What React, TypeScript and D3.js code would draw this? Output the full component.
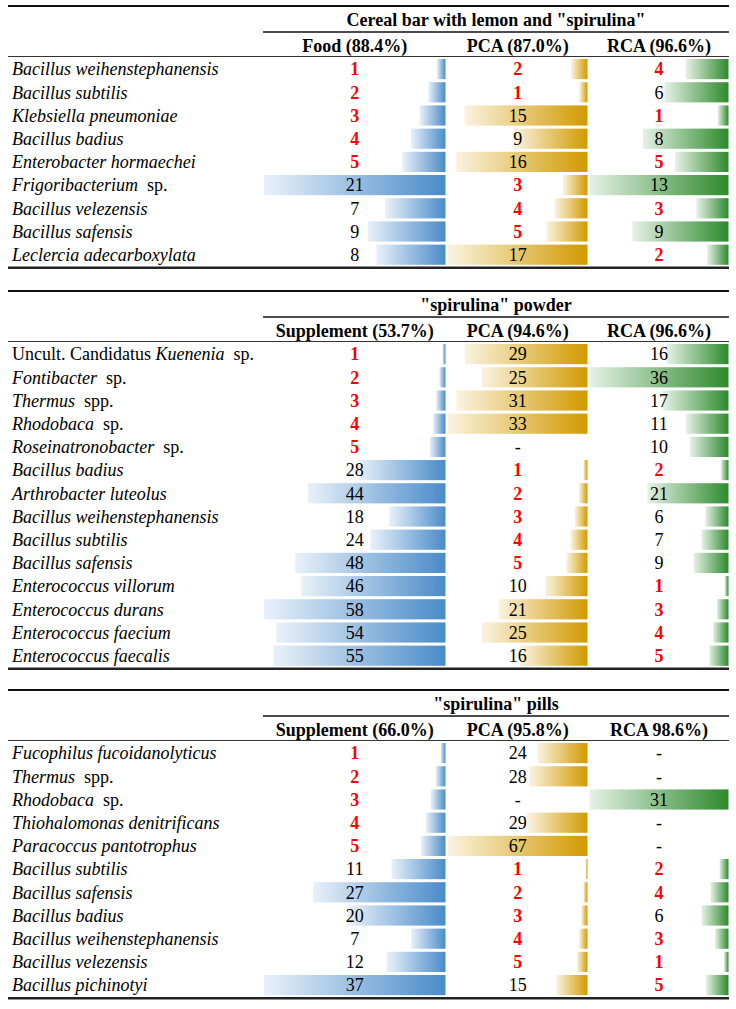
import React from "react";
import * as d3 from "d3";

// ---------- DATA ----------
const t1Title = 'Cereal bar with lemon and "spirulina"';
const t1Headers = ["Food (88.4%)", "PCA (87.0%)", "RCA (96.6%)"];
const t1Species = [
  "*Bacillus weihenstephanensis*",
  "*Bacillus subtilis*",
  "*Klebsiella pneumoniae*",
  "*Bacillus badius*",
  "*Enterobacter hormaechei*",
  "*Frigoribacterium* sp.",
  "*Bacillus velezensis*",
  "*Bacillus safensis*",
  "*Leclercia adecarboxylata*",
];
const t1Food = [1, 2, 3, 4, 5, 21, 7, 9, 8];
const t1PCA = [2, 1, 15, 9, 16, 3, 4, 5, 17];
const t1RCA = [4, 6, 1, 8, 5, 13, 3, 9, 2];

const t2Title = '"spirulina" powder';
const t2Headers = ["Supplement (53.7%)", "PCA (94.6%)", "RCA (96.6%)"];
const t2Species = [
  "Uncult. Candidatus *Kuenenia* sp.",
  "*Fontibacter* sp.",
  "*Thermus* spp.",
  "*Rhodobaca* sp.",
  "*Roseinatronobacter* sp.",
  "*Bacillus badius*",
  "*Arthrobacter luteolus*",
  "*Bacillus weihenstephanensis*",
  "*Bacillus subtilis*",
  "*Bacillus safensis*",
  "*Enterococcus villorum*",
  "*Enterococcus durans*",
  "*Enterococcus faecium*",
  "*Enterococcus faecalis*",
];
const t2Supp = [1, 2, 3, 4, 5, 28, 44, 18, 24, 48, 46, 58, 54, 55];
const t2PCA = [29, 25, 31, 33, null, 1, 2, 3, 4, 5, 10, 21, 25, 16];
const t2RCA = [16, 36, 17, 11, 10, 2, 21, 6, 7, 9, 1, 3, 4, 5];

const t3Title = '"spirulina" pills';
const t3Headers = ["Supplement (66.0%)", "PCA (95.8%)", "RCA 98.6%)"];
const t3Species = [
  "*Fucophilus fucoidanolyticus*",
  "*Thermus* spp.",
  "*Rhodobaca* sp.",
  "*Thiohalomonas denitrificans*",
  "*Paracoccus pantotrophus*",
  "*Bacillus subtilis*",
  "*Bacillus safensis*",
  "*Bacillus badius*",
  "*Bacillus weihenstephanensis*",
  "*Bacillus velezensis*",
  "*Bacillus pichinotyi*",
];
const t3Supp = [1, 2, 3, 4, 5, 11, 27, 20, 7, 12, 37];
const t3PCA = [24, 28, null, 29, 67, 1, 2, 3, 4, 5, 15];
const t3RCA = [null, null, 31, null, null, 2, 4, 6, 3, 1, 5];

// ---------- LAYOUT ----------
const W = 736;
const H = 1009;
const FONT = "'Liberation Serif', 'Times New Roman', serif";
const FS = 18;
const ROW_H = 23.2;
const RULE_X0 = 8;
const RULE_X1 = 729;
const GROUP_X0 = 263;
const LABEL_X = 12;
const COLS = [
  { x0: 264, x1: 445.5, grad: "gBlue" },
  { x0: 448, x1: 587.5, grad: "gGold" },
  { x0: 589.5, x1: 728.5, grad: "gGreen" },
];
const GRADS = [
  { id: "gBlue", c: "#4a8bc9" },
  { id: "gGold", c: "#d29a00" },
  { id: "gGreen", c: "#2d8a2d" },
];

const tables = [
  { top: 6, title: t1Title, headers: t1Headers, species: t1Species, cols: [t1Food, t1PCA, t1RCA] },
  { top: 291, title: t2Title, headers: t2Headers, species: t2Species, cols: [t2Supp, t2PCA, t2RCA] },
  { top: 690, title: t3Title, headers: t3Headers, species: t3Species, cols: [t3Supp, t3PCA, t3RCA] },
];

function Label({ s, x, y }: { s: string; x: number; y: number }) {
  const parts = s.split("*");
  return (
    <text x={x} y={y} dy="0.35em" fontFamily={FONT} fontSize={FS} fill="#000" style={{ whiteSpace: "pre" }}>
      {parts.map((p, i) =>
        p === "" ? null : (
          <tspan key={i} fontStyle={i % 2 === 1 ? "italic" : "normal"}>
            {i % 2 === 0 && i > 0 ? " " + p : p}
          </tspan>
        )
      )}
    </text>
  );
}

function Table({ t }: { t: (typeof tables)[number] }) {
  const top = t.top;
  const rowsTop = top + 51.5;
  const n = t.species.length;
  const rowsBottom = rowsTop + n * ROW_H;
  const y = d3.scaleBand<number>().domain(d3.range(n)).range([rowsTop, rowsBottom]).paddingInner(0.13).paddingOuter(0.065);
  const groupCenter = (GROUP_X0 + RULE_X1) / 2;
  return (
    <g>
      <line x1={RULE_X0} x2={RULE_X1} y1={top} y2={top} stroke="#111" strokeWidth={2.2} />
      <text x={groupCenter} y={top + 14} dy="0.35em" textAnchor="middle" fontFamily={FONT} fontSize={FS} fontWeight="bold">
        {t.title}
      </text>
      <line x1={GROUP_X0} x2={RULE_X1} y1={top + 26} y2={top + 26} stroke="#111" strokeWidth={1.5} />
      {t.headers.map((h, i) => (
        <text
          key={h}
          x={(COLS[i].x0 + COLS[i].x1) / 2}
          y={top + 39.5}
          dy="0.35em"
          textAnchor="middle"
          fontFamily={FONT}
          fontSize={FS}
          fontWeight="bold"
        >
          {h}
        </text>
      ))}
      <line x1={RULE_X0} x2={RULE_X1} y1={top + 50.5} y2={top + 50.5} stroke="#333" strokeWidth={1.2} />
      {t.cols.map((vals, ci) => {
        const col = COLS[ci];
        const max = d3.max(vals.filter((v) => v != null) as number[]) as number;
        const xw = d3.scaleLinear().domain([0, max]).range([0, col.x1 - col.x0]);
        return (
          <g key={ci}>
            {vals.map((v, ri) =>
              v == null ? null : (
                <rect
                  key={ri}
                  x={col.x1 - xw(v)}
                  y={y(ri)}
                  width={xw(v)}
                  height={y.bandwidth()}
                  fill={`url(#${col.grad})`}
                />
              )
            )}
            {vals.map((v, ri) => {
              const red = v != null && v <= 5;
              return (
                <text
                  key={"t" + ri}
                  x={(col.x0 + col.x1) / 2}
                  y={(y(ri) as number) + y.bandwidth() / 2}
                  dy="0.35em"
                  textAnchor="middle"
                  fontFamily={FONT}
                  fontSize={FS}
                  fontWeight={red ? "bold" : "normal"}
                  fill={red ? "#ff0000" : "#000"}
                >
                  {v == null ? "-" : v}
                </text>
              );
            })}
          </g>
        );
      })}
      {t.species.map((s, ri) => (
        <Label key={ri} s={s} x={LABEL_X} y={(y(ri) as number) + y.bandwidth() / 2} />
      ))}
      <line x1={RULE_X0} x2={RULE_X1} y1={rowsBottom + 1.5} y2={rowsBottom + 1.5} stroke="#222" strokeWidth={2.6} />
    </g>
  );
}

export default function App() {
  return (
    <svg
      width={W}
      height={H}
      viewBox={`0 0 ${W} ${H}`}
      style={{ position: "absolute", left: 0, top: 0, display: "block", background: "#fff" }}
    >
      <defs>
        {GRADS.map((g) => (
          <linearGradient key={g.id} id={g.id} x1="0" x2="1" y1="0" y2="0">
            <stop offset="0%" stopColor={d3.interpolateRgb("#ffffff", g.c)(0.12)} />
            <stop offset="100%" stopColor={g.c} />
          </linearGradient>
        ))}
      </defs>
      <rect width={W} height={H} fill="#fff" />
      {tables.map((t, i) => (
        <Table key={i} t={t} />
      ))}
    </svg>
  );
}
